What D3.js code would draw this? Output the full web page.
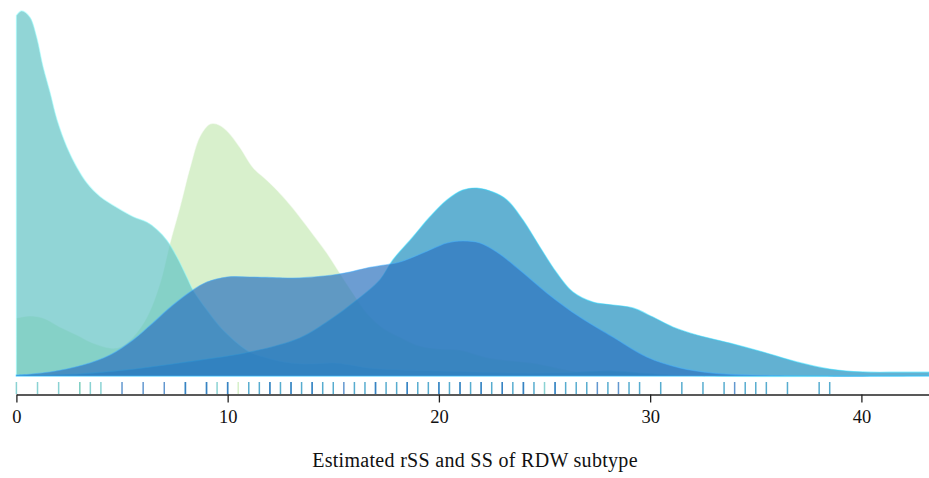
<!DOCTYPE html>
<html><head><meta charset="utf-8">
<script src="https://cdn.jsdelivr.net/npm/d3@7/dist/d3.min.js"></script>
<style>body{margin:0;background:#fff;} svg{display:block;}</style>
</head><body>
<svg id="chart" width="929" height="478"></svg>
<script>
// ---- data (density estimates) ----
const xTicks = [0, 10, 20, 30, 40];
const xTitle = "Estimated rSS and SS of RDW subtype";

const greenX = [0, 0.64, 1.26, 2.06, 2.87, 3.62, 4.43, 4.9, 5.52, 6.18, 6.8, 7.27, 7.74, 8.22, 8.69, 9.16, 9.49, 9.97, 10.58, 11.2, 11.86, 12.47, 13.09, 13.89, 14.7, 15.31, 15.93, 16.59, 17.35, 18.15, 19.1, 20.05, 20.99, 22.41, 24.45, 26.06, 26.67, 28.2, 30, 32, 43.2];
const greenY = [0.0317, 0.0328, 0.0317, 0.0268, 0.0224, 0.018, 0.0153, 0.0158, 0.0213, 0.0322, 0.0508, 0.0727, 0.0923, 0.114, 0.131, 0.1377, 0.1377, 0.134, 0.125, 0.114, 0.107, 0.100, 0.0918, 0.0798, 0.0672, 0.0563, 0.0454, 0.0344, 0.0262, 0.0213, 0.0164, 0.0148, 0.0142, 0.0098, 0.0071, 0.0033, 0.0022, 0.0022, 0.0005, 0, 0];

const tealX = [0, 0.25, 0.64, 0.96, 1.26, 1.59, 1.92, 2.39, 2.86, 3.33, 3.96, 4.76, 5.52, 6.18, 6.65, 7.13, 7.6, 8.07, 8.36, 9.02, 9.63, 10.25, 11.06, 11.86, 12.62, 13.42, 14.22, 14.98, 15.79, 16.59, 18.15, 20.05, 23.5, 26, 28.2, 30, 32, 43.2];
const tealY = [0.197, 0.1995, 0.196, 0.185, 0.169, 0.155, 0.140, 0.125, 0.114, 0.1055, 0.098, 0.092, 0.087, 0.084, 0.080, 0.074, 0.065, 0.054, 0.047, 0.036, 0.027, 0.020, 0.013, 0.0098, 0.0077, 0.0066, 0.0066, 0.0071, 0.006, 0.0044, 0.0033, 0.0027, 0.0016, 0.0018, 0.0028, 0.0012, 0, 0];

const cyanX = [0, 3.01, 5.23, 7.74, 11.06, 13.42, 14.84, 16.12, 17.21, 17.82, 18.77, 19.57, 20.38, 21.13, 21.8, 22.56, 23.22, 23.98, 24.78, 25.58, 26.34, 27.29, 28.24, 29.18, 30.13, 31.07, 32.21, 33.77, 35.34, 36.94, 38.5, 40.07, 41.82, 43.2];
const cyanY = [0.0003, 0.0011, 0.0033, 0.0071, 0.0131, 0.0208, 0.0306, 0.0415, 0.0525, 0.0634, 0.076, 0.0869, 0.0962, 0.1016, 0.1027, 0.1005, 0.0962, 0.0852, 0.0705, 0.0563, 0.0459, 0.0404, 0.0388, 0.0372, 0.0322, 0.0268, 0.0224, 0.018, 0.0131, 0.0077, 0.0038, 0.0022, 0.0021, 0.0021];

const blueX = [0, 1.59, 3.15, 4.43, 5.52, 6.46, 7.41, 8.36, 9.02, 9.97, 11.06, 12.62, 13.42, 14.98, 15.79, 16.59, 18.15, 19.24, 20.38, 21.13, 21.94, 22.74, 23.83, 25.11, 26.67, 28.24, 29.84, 31.41, 32.97, 34.72, 37.1, 43.2];
const blueY = [0.0005, 0.0022, 0.006, 0.0115, 0.0197, 0.029, 0.0388, 0.047, 0.0514, 0.0541, 0.0541, 0.0536, 0.0536, 0.0552, 0.0568, 0.059, 0.0623, 0.0672, 0.0727, 0.0738, 0.0727, 0.0678, 0.0579, 0.0454, 0.0322, 0.0213, 0.0104, 0.0044, 0.0016, 0.0005, 0, 0];

// observed values (rug)
const tealRug = [0, 1, 2, 3, 3.5, 4, 9.5, 25];
const greenRug = [3, 10.5];
const blueRug = [5, 6, 7, 8, 9, 10, 12, 13, 14, 15.5, 17, 18.5, 20, 21, 22, 23, 24, 25.5, 27.5, 28.5, 34];
const cyanRug = [8, 9, 10, 11, 11.5, 12, 12.5, 13, 13.5, 14, 14.5, 15, 16, 16.5, 17, 17.5, 18, 18.5, 19, 19.5, 20, 20.5, 21, 21.5, 22, 22.5, 23, 23.5, 24, 24.5, 25.5, 26, 26.5, 27, 28, 29, 29.5, 30.5, 31.5, 32.5, 33.5, 34.5, 35, 35.5, 36.5, 38, 38.5];

const seriesNames = ["green", "teal", "cyan", "blue"];
const seriesColors = ["#c7eab6", "#63c3c4", "#1f90bf", "#2d74bf"];

// ---- build ----
const series = [
  {name: "green", xs: greenX, ys: greenY, rug: greenRug},
  {name: "teal", xs: tealX, ys: tealY, rug: tealRug},
  {name: "cyan", xs: cyanX, ys: cyanY, rug: cyanRug},
  {name: "blue", xs: blueX, ys: blueY, rug: blueRug}
];
const color = d3.scaleOrdinal().domain(seriesNames).range(seriesColors);

const svg = d3.select("#chart");
const x = d3.scaleLinear().domain([0, 43.2]).range([16.4, 929]);
const y = d3.scaleLinear().domain([0, 0.2]).range([376, 10]);

const area = d3.area()
  .x(d => x(d[0])).y0(y(0)).y1(d => Math.min(y(0), y(d[1])))
  .curve(d3.curveCatmullRom.alpha(0.5));

const g = svg.append("g");
series.forEach(s => {
  const pts = s.xs.map((v, i) => [v, s.ys[i]]);
  g.append("path")
    .datum(pts)
    .attr("d", area)
    .attr("fill", color(s.name))
    .attr("fill-opacity", 0.7)
    .attr("stroke", d3.color(color(s.name)).brighter(1.2))
    .attr("stroke-opacity", 0.5)
    .attr("stroke-width", 1.2);
});

// rug
const rugG = svg.append("g");
series.forEach(s => {
  rugG.selectAll(null).data(s.rug).enter().append("line")
    .attr("x1", d => x(d)).attr("x2", d => x(d))
    .attr("y1", 382).attr("y2", 394)
    .attr("stroke", color(s.name))
    .attr("stroke-opacity", 0.75)
    .attr("stroke-width", 1.5);
});

// axis
const axis = d3.axisBottom(x).tickValues(xTicks).tickSize(8).tickPadding(7).tickSizeOuter(0);
const ax = svg.append("g").attr("transform", "translate(0,394.5)").call(axis);
ax.select(".domain").attr("stroke", "#222").attr("stroke-width", 1.3);
ax.selectAll(".tick line").attr("stroke", "#222").attr("stroke-width", 1.3);
ax.selectAll(".tick text").attr("fill", "#111")
  .style("font-family", "'Liberation Serif', 'DejaVu Serif', serif")
  .style("font-size", "18.5px");

svg.append("text")
  .attr("x", 475).attr("y", 467)
  .attr("text-anchor", "middle")
  .attr("fill", "#111")
  .style("font-family", "'Liberation Serif', 'DejaVu Serif', serif")
  .style("font-size", "20px")
  .style("letter-spacing", "0.3px")
  .text(xTitle);
</script>
</body></html>
